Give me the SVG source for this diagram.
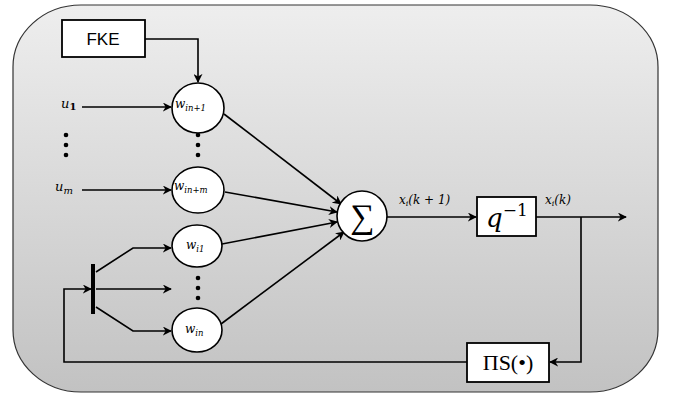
<svg xmlns="http://www.w3.org/2000/svg" width="675" height="397" viewBox="0 0 675 397">
  <defs>
    <linearGradient id="panelFill" x1="0" y1="0" x2="0" y2="1">
      <stop offset="0" stop-color="#eeeeee"/>
      <stop offset="1" stop-color="#c2c2c2"/>
    </linearGradient>
    <marker id="arrow" viewBox="0 0 10 10" refX="9" refY="5" markerWidth="9" markerHeight="9" markerUnits="userSpaceOnUse" orient="auto">
      <path d="M0,0 L10,5 L0,10 L3,5 Z" fill="#000"/>
    </marker>
  </defs>
  <style>
    .wire { fill: none; stroke: #000; stroke-width: 1.6; }
    .arr { marker-end: url(#arrow); }
    .node { fill: #fff; stroke: #000; stroke-width: 1.6; }
    .box { fill: #fff; stroke: #000; stroke-width: 1.8; }
    .math { font-family: "DejaVu Serif", "Liberation Serif", serif; font-style: italic; fill: #000; }
    .dot { fill: #000; }
  </style>

  <!-- background panel -->
  <rect x="13" y="5" width="645" height="387" rx="68" ry="62" fill="url(#panelFill)" stroke="#333" stroke-width="1.2"/>

  <!-- connectors -->
  <g id="connectors">
    <polyline class="wire arr" points="145,39 198,39 198,82"/>
    <line class="wire arr" x1="82" y1="107" x2="171" y2="107"/>
    <line class="wire arr" x1="82" y1="190" x2="171" y2="190"/>
    <line class="wire arr" x1="224" y1="114" x2="341" y2="204"/>
    <line class="wire arr" x1="225" y1="192" x2="337" y2="212"/>
    <line class="wire arr" x1="222" y1="244" x2="337" y2="222"/>
    <line class="wire arr" x1="221" y1="324" x2="344" y2="232"/>
    <polyline class="wire arr" points="96,272 133,248 171,248"/>
    <line class="wire arr" x1="96" y1="289" x2="171" y2="289"/>
    <polyline class="wire arr" points="96,307 133,331 171,331"/>
    <polyline class="wire arr" points="467,362 64,362 64,289 91,289"/>
    <line class="wire arr" x1="387" y1="217" x2="476" y2="217"/>
    <line class="wire arr" x1="536" y1="217" x2="626" y2="217"/>
    <polyline class="wire arr" points="581,217 581,362 550,362"/>
    <!-- splitter bar -->
    <line x1="93" y1="264" x2="93" y2="314" stroke="#000" stroke-width="4"/>
  </g>

  <!-- input labels and ellipsis dots -->
  <g id="inputs">
    <text class="math" x="61" y="108" font-size="13">u<tspan font-size="10" font-style="normal" font-weight="bold" dy="2">1</tspan></text>
    <text class="math" x="55" y="191" font-size="13">u<tspan font-size="10" dy="3">m</tspan></text>
    <circle class="dot" cx="66" cy="135" r="2.3"/>
    <circle class="dot" cx="66" cy="145" r="2.3"/>
    <circle class="dot" cx="66" cy="155" r="2.3"/>
    <circle class="dot" cx="198" cy="135" r="2.3"/>
    <circle class="dot" cx="198" cy="145" r="2.3"/>
    <circle class="dot" cx="198" cy="155" r="2.3"/>
    <circle class="dot" cx="198" cy="278" r="2.3"/>
    <circle class="dot" cx="198" cy="288" r="2.3"/>
    <circle class="dot" cx="198" cy="298" r="2.3"/>
  </g>

  <g id="fke">
    <rect class="box" x="62" y="20" width="83" height="37"/>
    <text x="103" y="45" text-anchor="middle" font-family="Liberation Sans, Arial, sans-serif" font-size="17">FKE</text>
  </g>

  <g id="w-in1">
    <ellipse class="node" cx="198" cy="108" rx="26" ry="25"/>
    <text class="math" x="175" y="108" font-size="12">w<tspan font-size="8.5" dy="3">in+1</tspan></text>
  </g>

  <g id="w-inm">
    <ellipse class="node" cx="198" cy="190" rx="26" ry="23"/>
    <text class="math" x="174" y="190" font-size="12">w<tspan font-size="8.5" dy="3">in+m</tspan></text>
  </g>

  <g id="w-i1">
    <ellipse class="node" cx="197" cy="246" rx="25" ry="21"/>
    <text class="math" x="186" y="249" font-size="12">w<tspan font-size="8.5" dy="3">i1</tspan></text>
  </g>

  <g id="w-in">
    <ellipse class="node" cx="197" cy="330" rx="25" ry="22"/>
    <text class="math" x="185" y="333" font-size="12">w<tspan font-size="8.5" dy="3">in</tspan></text>
  </g>

  <g id="sum">
    <circle class="node" cx="362" cy="216" r="25"/>
    <text x="362" y="228" text-anchor="middle" font-family="Liberation Serif, DejaVu Serif, serif" font-size="34">∑</text>
  </g>

  <g id="delay">
    <rect class="box" x="477" y="197" width="59" height="39"/>
    <text class="math" x="486" y="227" font-size="26">q<tspan font-style="normal" font-size="17" dy="-11">−1</tspan></text>
  </g>

  <g id="projection">
    <rect class="box" x="467" y="343" width="82" height="39"/>
    <text x="508" y="370" text-anchor="middle" font-family="Liberation Serif, DejaVu Serif, serif" font-size="22">ΠS(•)</text>
  </g>

  <g id="signal-labels">
    <text class="math" x="399" y="204" font-size="12">x<tspan font-size="8" dy="2">i</tspan><tspan dy="-2">(k + 1)</tspan></text>
    <text class="math" x="545" y="204" font-size="12">x<tspan font-size="8" dy="2">i</tspan><tspan dy="-2">(k)</tspan></text>
  </g>
</svg>
